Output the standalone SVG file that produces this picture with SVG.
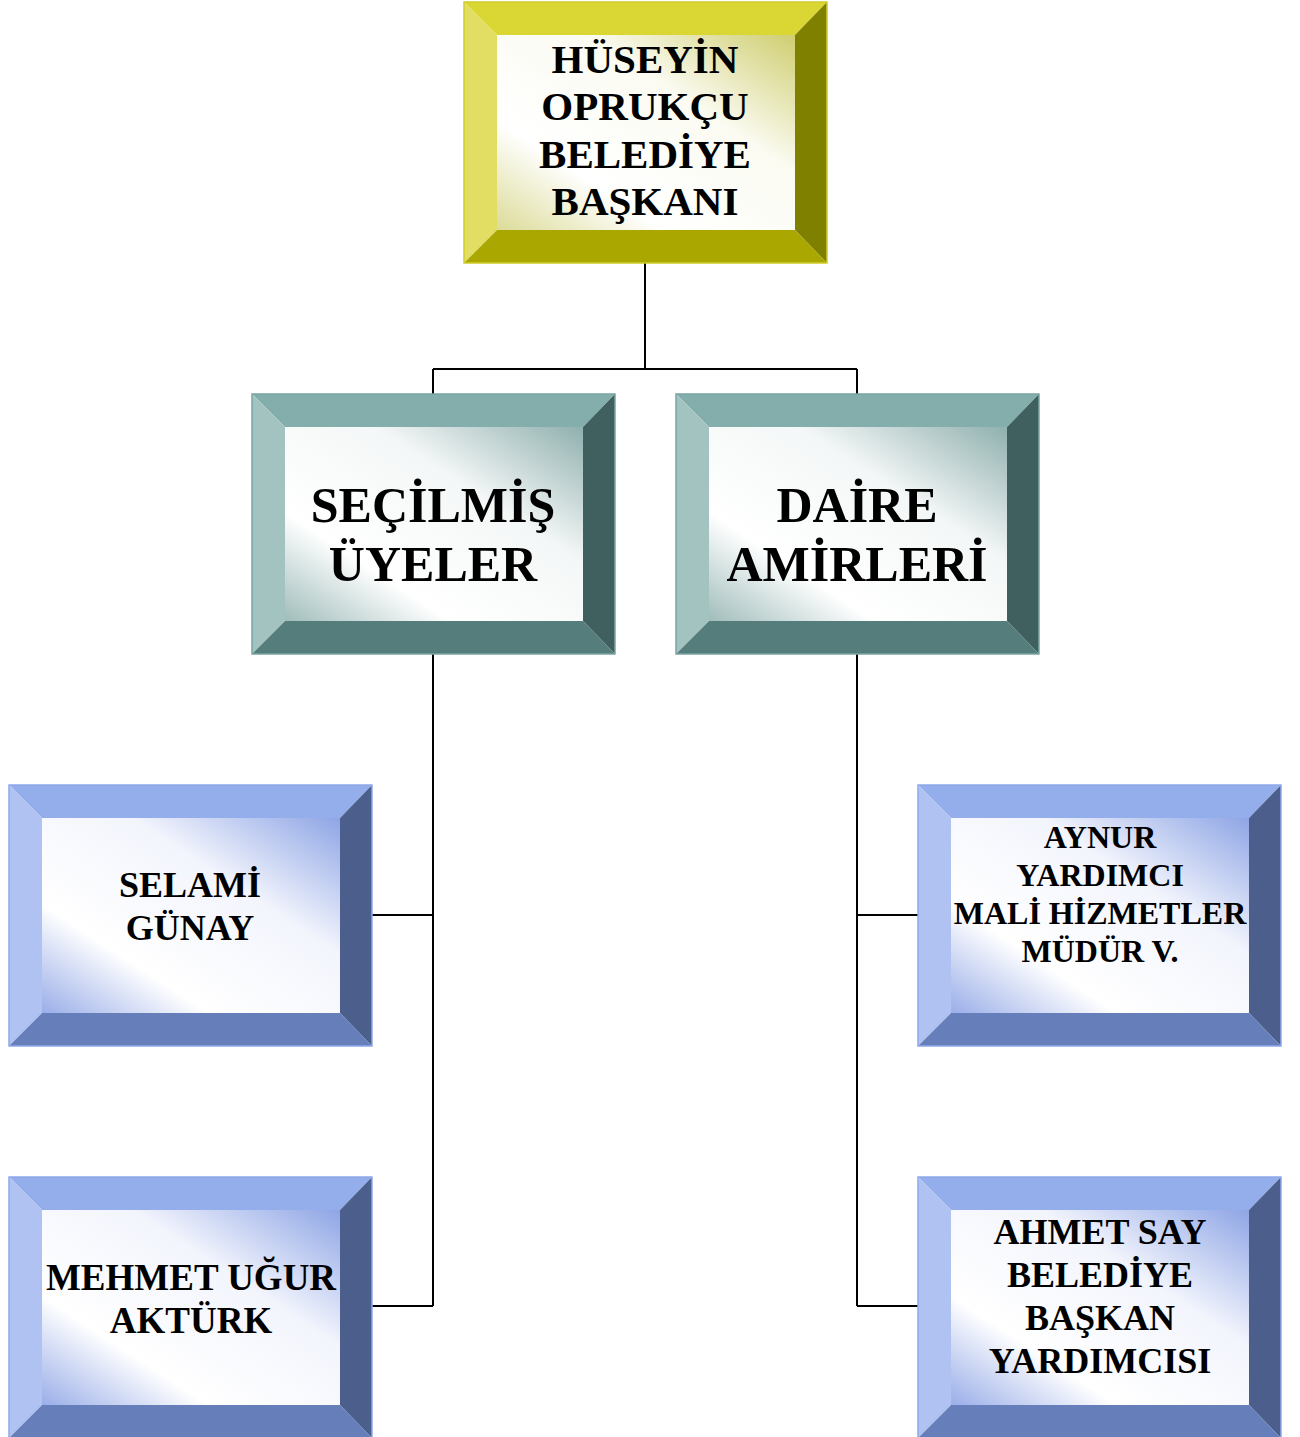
<svg xmlns="http://www.w3.org/2000/svg" width="1300" height="1437" viewBox="0 0 1300 1437">
<style>
text{font-family:"Liberation Serif","Times New Roman",serif;font-weight:bold;fill:#000;text-anchor:middle}
.conn{fill:none;stroke:#000;stroke-width:2}
.y .t{fill:#dad734}.y .l{fill:#e1de63}.y .r{fill:#808000}.y .b{fill:#a9a700}.y .o{fill:none;stroke:#cfcc2a;stroke-width:1.5}
.g .t{fill:#84aeac}.g .l{fill:#a3c3c1}.g .r{fill:#3f605e}.g .b{fill:#557d7b}.g .o{fill:none;stroke:#7aa5a3;stroke-width:1.5}
.bl .t{fill:#94aeeb}.bl .l{fill:#afc2f2}.bl .r{fill:#4b5e8c}.bl .b{fill:#667eb9}.bl .o{fill:none;stroke:#8ea8ea;stroke-width:1.5}
.y .i{fill:url(#gy)}.g .i{fill:url(#gg)}.bl .i{fill:url(#gb)}
</style>
<defs>
<linearGradient id="gy" x1="1" y1="0" x2="0" y2="1">
<stop offset="0" stop-color="#cfce70"/><stop offset="0.35" stop-color="#fbfbf2"/><stop offset="0.72" stop-color="#ffffff"/><stop offset="1" stop-color="#dcdb98"/>
</linearGradient>
<linearGradient id="gg" x1="1" y1="0" x2="0" y2="1">
<stop offset="0" stop-color="#8fb0ae"/><stop offset="0.35" stop-color="#f4f7f7"/><stop offset="0.72" stop-color="#ffffff"/><stop offset="1" stop-color="#a0bdbb"/>
</linearGradient>
<linearGradient id="gb" x1="1" y1="0" x2="0" y2="1">
<stop offset="0" stop-color="#8ea5e5"/><stop offset="0.35" stop-color="#f3f5fd"/><stop offset="0.72" stop-color="#ffffff"/><stop offset="1" stop-color="#9aaee8"/>
</linearGradient>
</defs>
<rect width="1300" height="1437" fill="#fff"/>
<g id="connectors">
<path class="conn" d="M645 263V369M433 369H857M433 369V394M857 369V394"/>
<path class="conn" d="M433 654V1306M372 915H433M372 1306H433"/>
<path class="conn" d="M857 654V1306M857 915H918M857 1306H918"/>
</g>
<g id="n_baskan" class="y" transform="translate(464,2)">
<polygon class="t" points="0,0 363,0 331,33 33,33"/>
<polygon class="l" points="0,0 33,33 33,228 0,261"/>
<polygon class="r" points="363,0 363,261 331,228 331,33"/>
<polygon class="b" points="0,261 33,228 331,228 363,261"/>
<rect class="i" x="33" y="33" width="298" height="195"/>
<rect class="o" x="0" y="0" width="363" height="261"/>
<text font-size="41" x="181" y="71">HÜSEYİN</text>
<text font-size="41" x="181" y="118">OPRUKÇU</text>
<text font-size="41" x="181" y="166">BELEDİYE</text>
<text font-size="41" x="181" y="213">BAŞKANI</text>
</g>
<g id="n_secilmis" class="g" transform="translate(252,394)">
<polygon class="t" points="0,0 363,0 331,33 33,33"/>
<polygon class="l" points="0,0 33,33 33,227 0,260"/>
<polygon class="r" points="363,0 363,260 331,227 331,33"/>
<polygon class="b" points="0,260 33,227 331,227 363,260"/>
<rect class="i" x="33" y="33" width="298" height="194"/>
<rect class="o" x="0" y="0" width="363" height="260"/>
<text font-size="50" x="181" y="128">SEÇİLMİŞ</text>
<text font-size="50" x="181" y="187">ÜYELER</text>
</g>
<g id="n_daire" class="g" transform="translate(676,394)">
<polygon class="t" points="0,0 363,0 331,33 33,33"/>
<polygon class="l" points="0,0 33,33 33,227 0,260"/>
<polygon class="r" points="363,0 363,260 331,227 331,33"/>
<polygon class="b" points="0,260 33,227 331,227 363,260"/>
<rect class="i" x="33" y="33" width="298" height="194"/>
<rect class="o" x="0" y="0" width="363" height="260"/>
<text font-size="50" x="181" y="128">DAİRE</text>
<text font-size="50" x="181" y="187">AMİRLERİ</text>
</g>
<g id="n_selami" class="bl" transform="translate(9,785)">
<polygon class="t" points="0,0 363,0 331,33 33,33"/>
<polygon class="l" points="0,0 33,33 33,228 0,261"/>
<polygon class="r" points="363,0 363,261 331,228 331,33"/>
<polygon class="b" points="0,261 33,228 331,228 363,261"/>
<rect class="i" x="33" y="33" width="298" height="195"/>
<rect class="o" x="0" y="0" width="363" height="261"/>
<text font-size="36" x="181" y="112">SELAMİ</text>
<text font-size="36" x="181" y="155">GÜNAY</text>
</g>
<g id="n_mehmet" class="bl" transform="translate(9,1177)">
<polygon class="t" points="0,0 363,0 331,33 33,33"/>
<polygon class="l" points="0,0 33,33 33,228 0,261"/>
<polygon class="r" points="363,0 363,261 331,228 331,33"/>
<polygon class="b" points="0,261 33,228 331,228 363,261"/>
<rect class="i" x="33" y="33" width="298" height="195"/>
<rect class="o" x="0" y="0" width="363" height="261"/>
<text font-size="37" x="182" y="113">MEHMET UĞUR</text>
<text font-size="37" x="182" y="156">AKTÜRK</text>
</g>
<g id="n_aynur" class="bl" transform="translate(918,785)">
<polygon class="t" points="0,0 363,0 331,33 33,33"/>
<polygon class="l" points="0,0 33,33 33,228 0,261"/>
<polygon class="r" points="363,0 363,261 331,228 331,33"/>
<polygon class="b" points="0,261 33,228 331,228 363,261"/>
<rect class="i" x="33" y="33" width="298" height="195"/>
<rect class="o" x="0" y="0" width="363" height="261"/>
<text font-size="32" x="182" y="63">AYNUR</text>
<text font-size="32" x="182" y="101">YARDIMCI</text>
<text font-size="32" x="182" y="139">MALİ HİZMETLER</text>
<text font-size="32" x="182" y="177">MÜDÜR V.</text>
</g>
<g id="n_ahmet" class="bl" transform="translate(918,1177)">
<polygon class="t" points="0,0 363,0 331,33 33,33"/>
<polygon class="l" points="0,0 33,33 33,228 0,261"/>
<polygon class="r" points="363,0 363,261 331,228 331,33"/>
<polygon class="b" points="0,261 33,228 331,228 363,261"/>
<rect class="i" x="33" y="33" width="298" height="195"/>
<rect class="o" x="0" y="0" width="363" height="261"/>
<text font-size="36" x="182" y="67">AHMET SAY</text>
<text font-size="36" x="182" y="110">BELEDİYE</text>
<text font-size="36" x="182" y="153">BAŞKAN</text>
<text font-size="36" x="182" y="196">YARDIMCISI</text>
</g>
</svg>
